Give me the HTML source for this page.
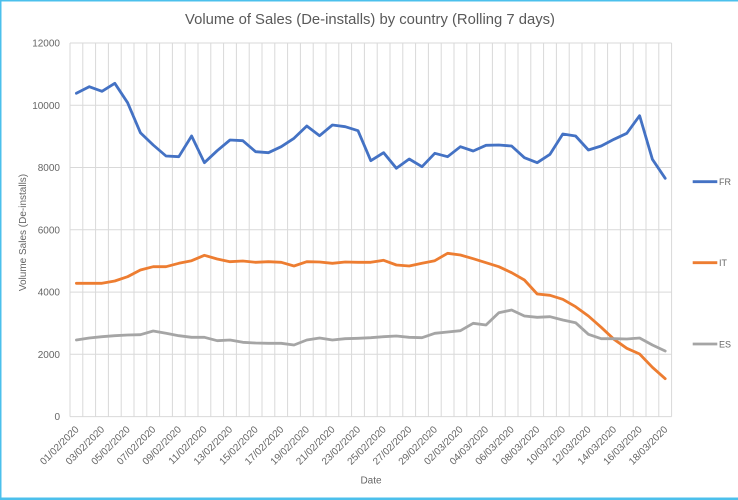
<!DOCTYPE html>
<html>
<head>
<meta charset="utf-8">
<style>
  html,body{margin:0;padding:0;background:#fff;}
  body{width:738px;height:500px;overflow:hidden;position:relative;}
  svg{display:block;}
  text{font-family:"Liberation Sans",sans-serif;fill:#666;}
</style>
</head>
<body>
<svg width="738" height="500" viewBox="0 0 738 500" xmlns="http://www.w3.org/2000/svg">
  <rect x="0" y="0" width="738" height="500" fill="#fff"/>
  <!-- border -->
  <rect x="0" y="0" width="738" height="1.5" fill="#4cc0ec"/>
  <rect x="0" y="0" width="1.5" height="500" fill="#4cc0ec"/>
  <rect x="0" y="497.5" width="738" height="2.5" fill="#4cc0ec"/>

  <!-- title -->
  <text x="370" y="24" font-size="15" text-anchor="middle" textLength="370" lengthAdjust="spacingAndGlyphs" style="fill:#595959">Volume of Sales (De-installs) by country (Rolling 7 days)</text>

  <!-- horizontal gridlines -->
  <g stroke="#d9d9d9" stroke-width="1" fill="none">
    <path d="M70 43H671.6M70 105.3H671.6M70 167.5H671.6M70 229.8H671.6M70 292.1H671.6M70 354.3H671.6M70 416.6H671.6"/>
    <path d="M70 43V416.6M82.8 43V416.6M95.6 43V416.6M108.4 43V416.6M121.2 43V416.6M134 43V416.6M146.8 43V416.6M159.6 43V416.6M172.4 43V416.6M185.2 43V416.6M198 43V416.6M210.8 43V416.6M223.6 43V416.6M236.4 43V416.6M249.2 43V416.6M262 43V416.6M274.8 43V416.6M287.6 43V416.6M300.4 43V416.6M313.2 43V416.6M326 43V416.6M338.8 43V416.6M351.6 43V416.6M364.4 43V416.6M377.2 43V416.6M390 43V416.6M402.8 43V416.6M415.6 43V416.6M428.4 43V416.6M441.2 43V416.6M454 43V416.6M466.8 43V416.6M479.6 43V416.6M492.4 43V416.6M505.2 43V416.6M518 43V416.6M530.8 43V416.6M543.6 43V416.6M556.4 43V416.6M569.2 43V416.6M582 43V416.6M594.8 43V416.6M607.6 43V416.6M620.4 43V416.6M633.2 43V416.6M646 43V416.6M658.8 43V416.6M671.6 43V416.6"/>
  </g>

  <!-- y tick labels -->
  <g font-size="10" text-anchor="end">
    <text x="60" y="46.5">12000</text>
    <text x="60" y="108.8">10000</text>
    <text x="60" y="171">8000</text>
    <text x="60" y="233.3">6000</text>
    <text x="60" y="295.6">4000</text>
    <text x="60" y="357.8">2000</text>
    <text x="60" y="420.1">0</text>
  </g>

  <!-- y axis title -->
  <text transform="translate(26,232.5) rotate(-90)" font-size="10" text-anchor="middle">Volume Sales (De-installs)</text>

  <!-- x tick labels -->
  <g font-size="10" text-anchor="end">
    <text transform="translate(79.4,430) rotate(-45)">01/02/2020</text>
    <text transform="translate(105,430) rotate(-45)">03/02/2020</text>
    <text transform="translate(130.6,430) rotate(-45)">05/02/2020</text>
    <text transform="translate(156.2,430) rotate(-45)">07/02/2020</text>
    <text transform="translate(181.8,430) rotate(-45)">09/02/2020</text>
    <text transform="translate(207.4,430) rotate(-45)">11/02/2020</text>
    <text transform="translate(233,430) rotate(-45)">13/02/2020</text>
    <text transform="translate(258.6,430) rotate(-45)">15/02/2020</text>
    <text transform="translate(284.2,430) rotate(-45)">17/02/2020</text>
    <text transform="translate(309.8,430) rotate(-45)">19/02/2020</text>
    <text transform="translate(335.4,430) rotate(-45)">21/02/2020</text>
    <text transform="translate(361,430) rotate(-45)">23/02/2020</text>
    <text transform="translate(386.6,430) rotate(-45)">25/02/2020</text>
    <text transform="translate(412.2,430) rotate(-45)">27/02/2020</text>
    <text transform="translate(437.8,430) rotate(-45)">29/02/2020</text>
    <text transform="translate(463.4,430) rotate(-45)">02/03/2020</text>
    <text transform="translate(489,430) rotate(-45)">04/03/2020</text>
    <text transform="translate(514.6,430) rotate(-45)">06/03/2020</text>
    <text transform="translate(540.2,430) rotate(-45)">08/03/2020</text>
    <text transform="translate(565.8,430) rotate(-45)">10/03/2020</text>
    <text transform="translate(591.4,430) rotate(-45)">12/03/2020</text>
    <text transform="translate(617,430) rotate(-45)">14/03/2020</text>
    <text transform="translate(642.6,430) rotate(-45)">16/03/2020</text>
    <text transform="translate(668.2,430) rotate(-45)">18/03/2020</text>
  </g>

  <!-- x axis title -->
  <text x="371" y="483.5" font-size="10" text-anchor="middle">Date</text>

  <!-- series -->
  <g fill="none" stroke-width="2.8" stroke-linejoin="round" stroke-linecap="round">
    <polyline stroke="#4472C4" points="76.4,93.3 89.2,86.7 102,91.3 114.8,83.3 127.6,102.7 140.4,132.7 153.2,145 166,156 178.8,156.7 191.6,136 204.4,162.7 217.2,150.7 230,140 242.8,140.7 255.6,151.7 268.4,152.7 281.2,146.7 294,138.3 306.8,126 319.6,135.7 332.4,125 345.2,126.7 358,130.7 370.8,160.7 383.6,152.7 396.4,168.3 409.2,159 422,166.7 434.8,153.3 447.6,156.7 460.4,146.7 473.2,151 486,145.3 498.8,145 511.6,146 524.4,157.7 537.2,162.7 550,154.3 562.8,134 575.6,136 588.4,150 601.2,146 614,139.3 626.8,133.3 639.6,115.7 652.4,159.3 665.2,178.3"/>
    <polyline stroke="#ED7D31" points="76.4,283.3 89.2,283.3 102,283.3 114.8,281 127.6,276.7 140.4,270 153.2,266.7 166,266.7 178.8,263.3 191.6,260.7 204.4,255.3 217.2,259 230,261.7 242.8,261 255.6,262.3 268.4,261.7 281.2,262.3 294,266 306.8,261.7 319.6,262 332.4,263.3 345.2,262 358,262.3 370.8,262.3 383.6,260.3 396.4,265 409.2,266 422,263.3 434.8,260.7 447.6,253.3 460.4,255 473.2,258.7 486,262.7 498.8,266.7 511.6,272.7 524.4,280 537.2,294 550,295.3 562.8,299.3 575.6,306.7 588.4,316 601.2,327.3 614,339.3 626.8,348.3 639.6,354 652.4,367.3 665.2,378.7"/>
    <polyline stroke="#A5A5A5" points="76.4,340 89.2,338 102,336.7 114.8,335.7 127.6,335 140.4,334.7 153.2,331 166,333.3 178.8,335.7 191.6,337.3 204.4,337.3 217.2,340.7 230,340 242.8,342.3 255.6,343 268.4,343.3 281.2,343.3 294,345 306.8,340 319.6,338 332.4,340 345.2,338.7 358,338.3 370.8,337.7 383.6,336.7 396.4,336 409.2,337.3 422,337.7 434.8,333.3 447.6,332 460.4,330.7 473.2,323.3 486,325 498.8,312.7 511.6,310 524.4,316 537.2,317.3 550,316.7 562.8,320 575.6,322.7 588.4,334.3 601.2,338.7 614,338.7 626.8,339 639.6,338 652.4,345 665.2,351"/>
  </g>

  <!-- legend -->
  <g stroke-width="2.8" stroke-linecap="butt">
    <line x1="692.7" y1="181.7" x2="717.3" y2="181.7" stroke="#4472C4"/>
    <line x1="692.7" y1="262.7" x2="717.3" y2="262.7" stroke="#ED7D31"/>
    <line x1="692.7" y1="344" x2="717.3" y2="344" stroke="#A5A5A5"/>
  </g>
  <g font-size="9">
    <text x="719" y="185">FR</text>
    <text x="719" y="266">IT</text>
    <text x="719" y="347.3">ES</text>
  </g>
</svg>
</body>
</html>
